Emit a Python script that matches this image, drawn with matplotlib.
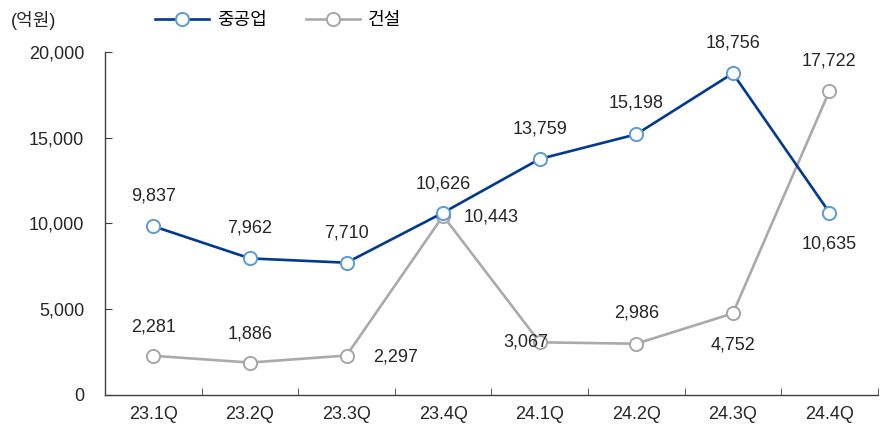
import numpy as np
import matplotlib
matplotlib.use("Agg")
import matplotlib.pyplot as plt
from matplotlib.ticker import FuncFormatter

plt.rcParams['font.family'] = ['Liberation Sans', 'Noto Sans CJK KR', 'DejaVu Sans']

# ------------------------------------------------------------------
# data
# ------------------------------------------------------------------
quarters = ["23.1Q", "23.2Q", "23.3Q", "23.4Q", "24.1Q", "24.2Q", "24.3Q", "24.4Q"]
heavy = [9837, 7962, 7710, 10626, 13759, 15198, 18756, 10635]
constr = [2281, 1886, 2297, 10443, 3067, 2986, 4752, 17722]
heavy_name = "중공업"
constr_name = "건설"

# label offsets in pixels (dx, dy)
heavy_off = [(0, 30), (0, 30), (0, 30), (0, 29), (0, 30), (0, 31), (0, 30), (0, -31)]
constr_off = [(0, 29), (0, 29), (49, -1), (48, -1), (-14, 0), (0, 31), (0, -32), (0, 30)]

BLUE = "#003893"
BLUE_EDGE = "#5B9BD5"
GRAY = "#AAAAAA"
GRAY_EDGE = "#A6A6A6"
TXT = "#262626"
FS = 13

fig = plt.figure(figsize=(8.83, 4.26), dpi=100)
ax = fig.add_axes([0.119, 0.073, 0.875, 0.805])

x = np.arange(len(quarters))
ax.plot(x, heavy, color=BLUE, lw=1.9, marker="o", ms=9.5, mfc="white",
        mec=BLUE_EDGE, mew=1.4, label=heavy_name, zorder=3)
ax.plot(x, constr, color=GRAY, lw=1.9, marker="o", ms=9.5, mfc="white",
        mec=GRAY_EDGE, mew=1.4, label=constr_name, zorder=2)

for xi, v, (dx, dy) in zip(x, heavy, heavy_off):
    ax.annotate(f"{v:,}", (xi, v), xytext=(dx, dy), textcoords="offset pixels",
                ha="center", va="center", fontsize=FS, color=TXT)
for xi, v, (dx, dy) in zip(x, constr, constr_off):
    ax.annotate(f"{v:,}", (xi, v), xytext=(dx, dy), textcoords="offset pixels",
                ha="center", va="center", fontsize=FS, color=TXT)

ax.set_xlim(-0.5, len(quarters) - 0.5)
ax.set_ylim(0, 20000)
ax.set_yticks(np.arange(0, 20001, 5000))
ax.yaxis.set_major_formatter(FuncFormatter(lambda v, p: f"{int(v):,}"))

ax.set_xticks(x)
ax.set_xticklabels(quarters)
ax.set_xticks(np.arange(0.5, len(quarters)), minor=True)
ax.tick_params(axis="x", which="major", length=0, pad=8, labelsize=FS, labelcolor=TXT)
ax.tick_params(axis="x", which="minor", direction="in", length=5, color="#404040")
ax.tick_params(axis="y", direction="in", length=5, pad=15, labelsize=FS,
               labelcolor=TXT, color="#404040")

for s in ["top", "right"]:
    ax.spines[s].set_visible(False)
for s in ["left", "bottom"]:
    ax.spines[s].set_color("#404040")
    ax.spines[s].set_linewidth(1.0)

fig.text(0.012, 0.952, "(억원)", fontsize=FS, color=TXT, va="center")
fig.legend(loc="center", bbox_to_anchor=(0.315, 0.952), ncol=2, frameon=False,
           fontsize=FS, handlelength=3.0, columnspacing=2.2, handletextpad=0.4)

fig.savefig("out.png", dpi=100)
